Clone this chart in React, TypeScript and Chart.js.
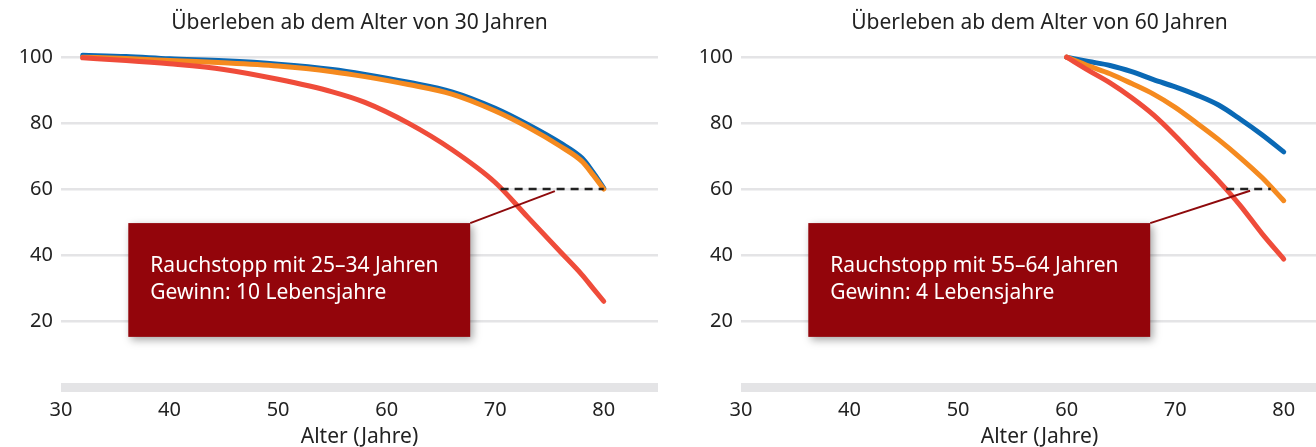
import React, { useEffect, useRef } from 'react';
import { Chart, registerables } from 'chart.js';

Chart.register(...registerables);

const FONT = "'Noto Sans', sans-serif";
const TEXT_COLOR = '#222222';
const BLUE = '#0a69b5';
const ORANGE = '#f58a1f';
const RED = '#ef4c3a';
const BOX_RED = '#93050b';

const xAxisTitle = 'Alter (Jahre)';
const xMin = 30;
const xMax = 85;
const xStep = 10;
const yMin = 0;
const yMax = 100;
const yStep = 20;

// Left panel
const leftTitle = 'Überleben ab dem Alter von 30 Jahren';
const leftAges = [32, 36, 40, 45, 50, 55, 58, 62, 66, 70, 73, 76, 78, 79, 80];
const leftBlue = [100.6, 100.2, 99.5, 98.9, 97.9, 96.3, 94.8, 92.4, 89.5, 84.5, 79.6, 74.0, 69.4, 65.2, 60.3];
const leftOrange = [100, 99.6, 99, 98.3, 97.3, 95.6, 94.1, 91.7, 88.8, 83.7, 78.8, 73.0, 68.4, 64.4, 60];
const leftRed = [99.8, 99, 98, 96.3, 93.3, 89.5, 86.3, 80, 72, 62, 51.5, 41, 34, 30, 26];
const leftGapAges = [70.5, 80];
const leftGapValue = 60;
const leftPointer = [75.5, 59.4];
const leftNote = ['Rauchstopp mit 25–34 Jahren', 'Gewinn: 10 Lebensjahre'];

// Right panel
const rightTitle = 'Überleben ab dem Alter von 60 Jahren';
const rightAges = [60, 62, 64, 66, 68, 70, 72, 74, 76, 78, 80];
const rightBlue = [100, 98.7, 97.5, 95.6, 93.2, 91.0, 88.5, 85.5, 81.2, 76.5, 71.3];
const rightOrange = [100, 97.4, 95, 92, 88.8, 84.8, 80, 75, 69.5, 63.5, 56.5];
const rightRed = [100, 96, 92.2, 87.7, 82.5, 76.2, 69.3, 62.5, 55, 46.5, 38.8];
const rightGapAges = [74.7, 78.8];
const rightGapValue = 60;
const rightPointer = [76.9, 59.5];
const rightNote = ['Rauchstopp mit 55–64 Jahren', 'Gewinn: 4 Lebensjahre'];

// Note box extent in data units [xFrom, xTo, yTop, yBottom]
const noteBox = [36.2, 67.7, 49.7, 15.2];

type PanelProps = {
  title: string;
  ages: number[];
  blue: number[];
  orange: number[];
  red: number[];
  gapAges: number[];
  gapValue: number;
  pointer: number[];
  note: string[];
};

const pts = (xs: number[], ys: number[]) => xs.map((x, i) => ({ x, y: ys[i] }));

function Panel(props: PanelProps & { left: number }) {
  const ref = useRef<HTMLCanvasElement | null>(null);
  useEffect(() => {
    if (!ref.current) return;
    const notePlugin = {
      id: 'notebox',
      afterDatasetsDraw(chart: any) {
        const { ctx, scales } = chart;
        const x = scales.x;
        const y = scales.y;
        const x0 = x.getPixelForValue(noteBox[0]);
        const x1 = x.getPixelForValue(noteBox[1]);
        const y0 = y.getPixelForValue(noteBox[2]);
        const y1 = y.getPixelForValue(noteBox[3]);
        ctx.save();
        ctx.shadowColor = 'rgba(0,0,0,0.35)';
        ctx.shadowBlur = 8;
        ctx.shadowOffsetX = 3;
        ctx.shadowOffsetY = 3;
        ctx.fillStyle = BOX_RED;
        ctx.fillRect(x0, y0, x1 - x0, y1 - y0);
        ctx.restore();
        ctx.save();
        ctx.fillStyle = '#ffffff';
        ctx.font = `21px ${FONT}`;
        ctx.textBaseline = 'middle';
        ctx.textAlign = 'left';
        props.note.forEach((line, i) => {
          ctx.fillText(line, x0 + 22, y0 + 43 + i * 27);
        });
        ctx.restore();
      },
    };
    const lineDs = (label: string, data: any, color: string, order: number) => ({
      label,
      data,
      borderColor: color,
      backgroundColor: color,
      borderWidth: 5,
      pointRadius: 0,
      cubicInterpolationMode: 'monotone' as const,
      borderCapStyle: 'round' as const,
      borderJoinStyle: 'round' as const,
      clip: false as const,
      order,
    });
    const chart = new Chart(ref.current, {
      type: 'line',
      data: {
        datasets: [
          lineDs('Nie geraucht', pts(props.ages, props.blue), BLUE, 4),
          lineDs('Rauchstopp', pts(props.ages, props.orange), ORANGE, 3),
          lineDs('Raucher', pts(props.ages, props.red), RED, 2),
          {
            label: 'gap',
            data: pts(props.gapAges, props.gapAges.map(() => props.gapValue)),
            borderColor: '#222222',
            borderWidth: 2.5,
            borderDash: [8, 6],
            pointRadius: 0,
            tension: 0,
            clip: false,
            order: 1,
          },
          {
            label: 'pointer',
            data: [
              { x: noteBox[1], y: noteBox[2] },
              { x: props.pointer[0], y: props.pointer[1] },
            ],
            borderColor: '#8e0a0c',
            borderWidth: 2,
            pointRadius: 0,
            tension: 0,
            clip: false,
            order: 0,
          },
        ] as any,
      },
      options: {
        responsive: false,
        animation: false,
        events: [],
        layout: { padding: { left: 0, right: 2, top: 0, bottom: 0 } },
        plugins: {
          legend: { display: false },
          tooltip: { enabled: false },
          title: {
            display: true,
            text: props.title,
            fullSize: false,
            color: TEXT_COLOR,
            font: { family: FONT, size: 21, weight: 'normal' },
            padding: { top: 10, bottom: 22 },
          },
        },
        scales: {
          x: {
            type: 'linear',
            min: xMin,
            max: xMax,
            grid: { display: false, drawTicks: false },
            border: { display: false },
            ticks: {
              stepSize: xStep,
              includeBounds: false,
              padding: 11,
              color: TEXT_COLOR,
              font: { family: FONT, size: 20 },
              maxRotation: 0,
              autoSkip: false,
            },
            title: {
              display: true,
              text: xAxisTitle,
              color: TEXT_COLOR,
              font: { family: FONT, size: 21 },
              padding: { top: 0, bottom: 2 },
            },
            afterFit: (s: any) => {
              s.height = 65;
            },
          },
          y: {
            min: yMin,
            max: yMax,
            ticks: {
              stepSize: yStep,
              padding: 8,
              color: TEXT_COLOR,
              font: { family: FONT, size: 20 },
              callback: (v: any) => (v === 0 ? '' : String(v)),
            },
            grid: {
              drawTicks: false,
              color: '#e4e4e6',
              lineWidth: (c: any) => (c.tick && c.tick.value === 0 ? 9 : 2.5),
            },
            border: { display: false },
            afterFit: (s: any) => {
              s.width = 61;
            },
          },
        } as any,
      },
      plugins: [notePlugin],
    });
    return () => chart.destroy();
  }, []);
  return (
    <canvas
      ref={ref}
      width={660}
      height={452}
      style={{ position: 'absolute', left: props.left, top: 0, width: 660, height: 452 }}
    />
  );
}

export default function App() {
  return (
    <div
      style={{
        position: 'fixed',
        left: 0,
        top: 0,
        width: 1316,
        height: 447,
        overflow: 'hidden',
        background: '#ffffff',
      }}
    >
      <Panel
        left={0}
        title={leftTitle}
        ages={leftAges}
        blue={leftBlue}
        orange={leftOrange}
        red={leftRed}
        gapAges={leftGapAges}
        gapValue={leftGapValue}
        pointer={leftPointer}
        note={leftNote}
      />
      <Panel
        left={680}
        title={rightTitle}
        ages={rightAges}
        blue={rightBlue}
        orange={rightOrange}
        red={rightRed}
        gapAges={rightGapAges}
        gapValue={rightGapValue}
        pointer={rightPointer}
        note={rightNote}
      />
    </div>
  );
}
